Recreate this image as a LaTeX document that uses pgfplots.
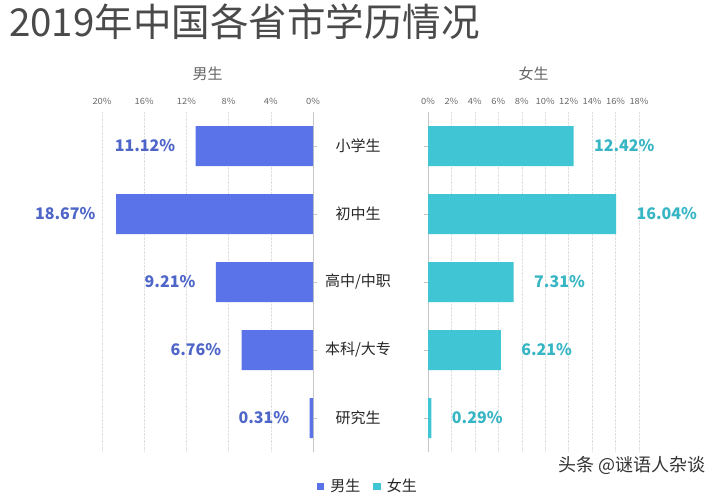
\documentclass[border=0pt]{standalone}
\usepackage{pgfplots}
\pgfplotsset{compat=1.18}
\usepackage{fontspec}
\setmainfont{Noto Sans CJK SC}
\definecolor{mblue}{HTML}{5B73E8}
\definecolor{mlab}{HTML}{4F66C9}
\definecolor{fcyan}{HTML}{3FC5D3}
\definecolor{flab}{HTML}{36B5C4}
\definecolor{ticktxt}{HTML}{666666}
\definecolor{titletxt}{HTML}{4A4A4A}
\pgfplotsset{
  common/.style={
    scale only axis, height=340pt, width=211pt,
    xbar, bar width=40pt, bar shift=0pt,
    ymin=-0.5, ymax=4.5, y dir=reverse,
    ytick={0,...,4},
    /pgf/number format/assume math mode=true,
    axis x line*=top,
    x axis line style={draw=none},
    y axis line style={-, draw=gray!45},
    xmajorgrids, grid style={densely dotted, gray!25},
    major x tick style={draw=none},
    major y tick style={draw=gray!45},
    major tick length=4pt, tick align=outside,
    xticklabel style={font=\fontsize{8.5}{8.5}\selectfont, text=ticktxt, xscale=1.1},
    title style={at={(0.5,1)}, anchor=center, yshift=32pt, font=\fontsize{15}{15}\selectfont, text=ticktxt},
    point meta=explicit,
    nodes near coords={\pgfmathprintnumber[fixed,precision=2,fixed zerofill]{\pgfplotspointmeta}\%},
  }
}
\begin{document}
\begin{tikzpicture}
\useasboundingbox (0,0) rectangle (720pt,495pt);
\node[anchor=north west, inner sep=0pt, font=\fontsize{38.5}{38.5}\selectfont, text=titletxt] at (9pt,491pt) {2019年中国各省市学历情况};
\node[anchor=east, inner sep=0pt, font=\fontsize{18}{18}\selectfont, text=black!80] at (706pt,30pt) {头条 @谜语人杂谈};
% male (left)
\begin{axis}[common,
  at={(102pt,43pt)}, anchor=south west,
  xmin=-20, xmax=0,
  xtick={-20,-16,...,0},
  xticklabel={\pgfmathparse{abs(\tick)}\pgfmathprintnumber{\pgfmathresult}\%},
  axis y line*=right,
  yticklabels={小学生,初中生,高中/中职,本科/大专,研究生},
  yticklabel style={anchor=center, xshift=41pt, font=\fontsize{15}{15}\selectfont, text=black!85},
  title={男生},
  nodes near coords style={anchor=east, xshift=-17pt, font=\bfseries\fontsize{16}{16}\selectfont, text=mlab},
]
\addplot[fill=mblue, draw=none] coordinates {
  (-11.12,0) [11.12]
  (-18.67,1) [18.67]
  (-9.21,2) [9.21]
  (-6.76,3) [6.76]
  (-0.31,4) [0.31]
};
\end{axis}
% female (right)
\begin{axis}[common,
  at={(428pt,43pt)}, anchor=south west,
  xmin=0, xmax=18,
  xtick={0,2,...,18},
  xticklabel={\pgfmathprintnumber{\tick}\%},
  axis y line*=left,
  yticklabels={},
  title={女生},
  nodes near coords style={anchor=west, xshift=17pt, font=\bfseries\fontsize{16}{16}\selectfont, text=flab},
  legend style={at={(-0.285,-0.1)}, anchor=center, draw=none, fill=none,
    legend columns=2, font=\fontsize{15}{15}\selectfont, text=black!85,
    /tikz/every odd column/.append style={column sep=4pt},
    /tikz/every even column/.append style={column sep=11pt}},
  legend image code/.code={\fill[#1] (0pt,-3.5pt) rectangle (7.5pt,3.5pt);},
]
\addlegendimage{fill=mblue, draw=none}
\addlegendentry{男生}
\addplot[fill=fcyan, draw=none] coordinates {
  (12.42,0) [12.42]
  (16.04,1) [16.04]
  (7.31,2) [7.31]
  (6.21,3) [6.21]
  (0.29,4) [0.29]
};
\addlegendentry{女生}
\end{axis}
\end{tikzpicture}
\end{document}
